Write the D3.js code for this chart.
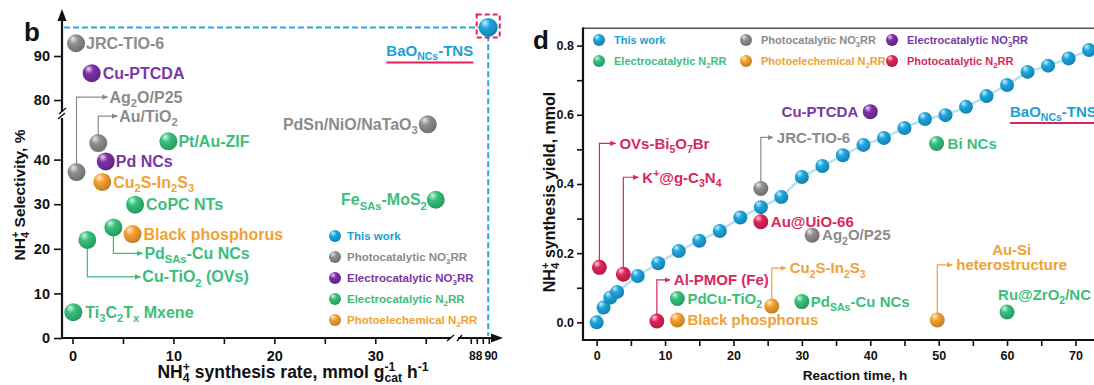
<!DOCTYPE html>
<html>
<head>
<meta charset="utf-8">
<script src="https://cdn.jsdelivr.net/npm/d3@7"></script>
<style>
  html, body { margin: 0; padding: 0; background: #fff; }
  svg { display: block; font-family: "Liberation Sans", Arial, sans-serif; font-weight: bold; }
</style>
</head>
<body>
<svg id="chart" width="1094" height="385"></svg>
<script>
// ---------- Panel b: selectivity vs. synthesis rate ----------
const rateCatalysts = ["BaO_{NCs}-TNS", "JRC-TIO-6", "Cu-PTCDA", "Ag_2O/P25", "Au/TiO_2", "Pt/Au-ZIF",
  "Pd NCs", "Cu_2S-In_2S_3", "CoPC NTs", "Pd_{SAs}-Cu NCs", "Black phosphorus", "Cu-TiO_2 (OVs)",
  "Ti_3C_2T_x Mxene", "PdSn/NiO/NaTaO_3", "Fe_{SAs}-MoS_2"];
const rateValues = [89.9, 0.35, 1.9, 0.4, 2.55, 9.5, 3.3, 2.95, 6.2, 4.05, 5.95, 1.47, 0.08, 35.2, 36.0];
const selectivityValues = [96.5, 92.9, 86.1, 37.2, 43.7, 44.1, 39.6, 35.0, 29.9, 24.8, 23.3, 22.0, 5.8, 47.9, 31.0];
const rateGroups = ["work", "photoNO3", "electroNO3", "photoNO3", "photoNO3", "electroN2",
  "electroNO3", "photoelecN2", "electroN2", "electroN2", "photoelecN2", "electroN2",
  "electroN2", "photoNO3", "electroN2"];
const selectivityTicks = [0, 10, 20, 30, 40, 80, 90];
const rateTicks = [0, 5, 10, 15, 20, 25, 30, 35, 87, 88, 89, 90];
const rateTickLabels = [0, 10, 20, 30, 88, 90];

// ---------- Panel d: yield vs. reaction time ----------
const reactionTimes = [0, 1, 2, 3, 6, 9, 12, 15, 18, 21, 24, 27, 30, 33, 36, 39, 42, 45, 48, 51, 54, 57, 60, 63, 66, 69, 72];
const thisWorkYield = [0, 0.043, 0.072, 0.088, 0.134, 0.171, 0.206, 0.236, 0.264, 0.303, 0.333, 0.362, 0.42,
  0.452, 0.483, 0.513, 0.533, 0.562, 0.588, 0.599, 0.623, 0.654, 0.686, 0.724, 0.742, 0.763, 0.787];
const refCatalysts = ["OVs-Bi_5O_7Br", "K^{+}@g-C_3N_4", "Al-PMOF (Fe)", "PdCu-TiO_2", "Black phosphorus",
  "Cu_2S-In_2S_3", "Pd_{SAs}-Cu NCs", "JRC-TIO-6", "Au@UiO-66", "Ag_2O/P25", "Cu-PTCDA", "Bi NCs",
  "Au-Si heterostructure", "Ru@ZrO_2/NC"];
const refTimes = [0.4, 3.9, 8.8, 11.8, 11.8, 25.6, 30, 24, 24, 31.5, 40, 49.7, 49.8, 60];
const refYields = [0.159, 0.139, 0.004, 0.069, 0.007, 0.047, 0.06, 0.387, 0.291, 0.252, 0.609, 0.517, 0.007, 0.03];
const refGroups = ["photoN2", "photoN2", "photoN2", "electroN2", "photoelecN2", "photoelecN2", "electroN2",
  "photoNO3", "photoN2", "photoNO3", "electroNO3", "electroN2", "photoelecN2", "electroN2"];
const yieldTicks = [0, 0.1, 0.2, 0.3, 0.4, 0.5, 0.6, 0.7, 0.8];
const timeTicks = [0, 5, 10, 15, 20, 25, 30, 35, 40, 45, 50, 55, 60, 65, 70];

// ---------- Legend groups ----------
const groupKeys = ["work", "photoNO3", "electroNO3", "electroN2", "photoelecN2", "photoN2"];
const groupNames = ["This work", "Photocatalytic NO_3^-RR", "Electrocatalytic NO_3^-RR",
  "Electrocatalytic N_2RR", "Photoelechemical N_2RR", "Photocatalytic N_2RR"];

// ---------- Styling ----------
const fillColor = { work: "#1ca6df", photoNO3: "#8f8f8f", electroNO3: "#7d2fa8",
  electroN2: "#36c27b", photoelecN2: "#f6a12f", photoN2: "#e0245a" };
const textColor = { work: "#1b9fd6", photoNO3: "#8b8b8b", electroNO3: "#7b37a6",
  electroN2: "#3cbe7b", photoelecN2: "#f0a235", photoN2: "#d8285c" };

// label placement relative to each sphere (px); "elbow" draws an arrowed leader line
const layoutB = {
  "BaO_{NCs}-TNS": { dx: -15, dy: 23, anchor: "end", fs: 15, underline: 12 },
  "JRC-TIO-6": { dx: 10, dy: 0 },
  "Cu-PTCDA": { dx: 11, dy: 0 },
  "Ag_2O/P25": { dx: 33, dy: -75, elbow: true },
  "Au/TiO_2": { dx: 21, dy: -27, elbow: true },
  "Pt/Au-ZIF": { dx: 10, dy: 0 },
  "Pd NCs": { dx: 10, dy: 0 },
  "Cu_2S-In_2S_3": { dx: 11, dy: 0 },
  "CoPC NTs": { dx: 11, dy: 0 },
  "Pd_{SAs}-Cu NCs": { dx: 31, dy: 26, elbow: true },
  "Black phosphorus": { dx: 11, dy: 0 },
  "Cu-TiO_2 (OVs)": { dx: 55, dy: 37, elbow: true },
  "Ti_3C_2T_x Mxene": { dx: 12, dy: 0 },
  "PdSn/NiO/NaTaO_3": { dx: -10, dy: 0, anchor: "end" },
  "Fe_{SAs}-MoS_2": { dx: -9, dy: 0, anchor: "end" }
};
const layoutD = {
  "OVs-Bi_5O_7Br": { dx: 18, dy: -124, elbow: true },
  "K^{+}@g-C_3N_4": { dx: 17, dy: -97, elbow: true },
  "Al-PMOF (Fe)": { dx: 15, dy: -41, elbow: true },
  "PdCu-TiO_2": { dx: 10, dy: 0 },
  "Black phosphorus": { dx: 10, dy: 0 },
  "Cu_2S-In_2S_3": { dx: 16, dy: -38, elbow: true },
  "Pd_{SAs}-Cu NCs": { dx: 9, dy: 0 },
  "JRC-TIO-6": { dx: 14, dy: -51, elbow: true },
  "Au@UiO-66": { dx: 10, dy: 0 },
  "Ag_2O/P25": { dx: 10, dy: 0 },
  "Cu-PTCDA": { dx: -12, dy: 0, anchor: "end" },
  "Bi NCs": { dx: 11, dy: 0 },
  "Au-Si heterostructure": { dx: 17, dy: -55, elbow: true, twoLine: true },
  "Ru@ZrO_2/NC": { dx: -9, dy: -17 }
};

const svg = d3.select("#chart");
const defs = svg.append("defs");

// shaded sphere fills and leader arrowheads for every group colour
groupKeys.forEach(k => {
  const c = fillColor[k];
  const g = defs.append("radialGradient").attr("id", "sph-" + k)
    .attr("cx", "40%").attr("cy", "35%").attr("r", "65%").attr("fx", "32%").attr("fy", "25%");
  g.append("stop").attr("offset", "0%").attr("stop-color", d3.interpolateRgb(c, "#ffffff")(0.8));
  g.append("stop").attr("offset", "40%").attr("stop-color", c);
  g.append("stop").attr("offset", "100%").attr("stop-color", d3.color(c).darker(0.7));
  defs.append("marker").attr("id", "arr-" + k)
    .attr("viewBox", "0 0 8 8").attr("refX", 7).attr("refY", 4)
    .attr("markerWidth", 6).attr("markerHeight", 6).attr("markerUnits", "userSpaceOnUse")
    .attr("orient", "auto")
    .append("path").attr("d", "M0,0.5 L8,4 L0,7.5 Z").attr("fill", textColor[k]);
});

// text with _sub and ^sup segments (sub followed by sup are stacked)
function richText(sel, str, fs, subShift = 0.28) {
  const toks = [];
  let i = 0;
  while (i < str.length) {
    const c = str[i];
    if (c === "_" || c === "^") {
      let t;
      if (str[i + 1] === "{") { const j = str.indexOf("}", i + 2); t = str.slice(i + 2, j); i = j + 1; }
      else { t = str[i + 1]; i += 2; }
      toks.push({ t, m: c });
    } else {
      let j = i;
      while (j < str.length && str[j] !== "_" && str[j] !== "^") j++;
      toks.push({ t: str.slice(i, j), m: "" });
      i = j;
    }
  }
  let cur = 0, prevSub = null, pending = 0;
  toks.forEach(tok => {
    const target = tok.m === "_" ? fs * subShift : tok.m === "^" ? -fs * 0.4 : 0;
    const ts = sel.append("tspan").text(tok.t).attr("dy", target - cur);
    if (tok.m) ts.attr("font-size", fs * 0.7);
    if (tok.m === "^" && prevSub) {
      const sw = prevSub.node().getComputedTextLength();
      ts.attr("dx", -sw);
      const pw = ts.node().getComputedTextLength();
      pending = Math.max(0, sw - pw);
    } else if (pending) {
      ts.attr("dx", pending);
      pending = 0;
    }
    prevSub = tok.m === "_" ? ts : null;
    cur = target;
  });
}

function label(g, x, y, str, fs, color, anchor) {
  const t = g.append("text").attr("x", x).attr("y", y + fs * 0.35)
    .attr("font-size", fs).attr("fill", color).attr("text-anchor", anchor || "start");
  richText(t, str, fs);
  return t;
}

function sphere(g, x, y, r, key) {
  g.append("circle").attr("cx", x).attr("cy", y).attr("r", r).attr("fill", `url(#sph-${key})`);
}

function styleAxis(ax, fs) {
  ax.select(".domain").remove();
  ax.attr("font-family", null).attr("font-size", fs);
  ax.selectAll(".tick line").attr("stroke", "#111").attr("stroke-width", 1.6);
  ax.selectAll(".tick text").attr("fill", "#111");
}

function line(g, pts, attrs) {
  const p = g.append("path").attr("d", d3.line()(pts));
  Object.entries(attrs).forEach(([k, v]) => p.attr(k, v));
  return p;
}

// ================= Panel b =================
const xB = d3.scaleLinear().domain([0, 37.8, 85.2, 92.2]).range([72.5, 454, 460, 502]);
const yB = d3.scaleLinear().domain([0, 50, 76.6, 100]).range([338, 115, 115, 12]);
const gB = svg.append("g");
const axX0 = 62, axY0 = 338;

const yAxisB = gB.append("g").attr("transform", `translate(${axX0},0)`)
  .call(d3.axisLeft(yB).tickValues(selectivityTicks).tickSize(8).tickPadding(4));
styleAxis(yAxisB, 14.5);
const xAxisB = gB.append("g").attr("transform", `translate(0,${axY0})`)
  .call(d3.axisBottom(xB).tickValues(rateTicks).tickSize(6).tickPadding(7)
    .tickFormat(d => rateTickLabels.includes(d) ? d : ""));
styleAxis(xAxisB, 14.5);
// labels beyond the axis break are set smaller
xAxisB.selectAll(".tick text").filter(d => d > 80)
  .attr("font-size", 12).attr("dx", d => d === 90 ? 1.8 : -1.6);

// axis lines with break marks and arrowheads
const axisStroke = { stroke: "#111", "stroke-width": 2.2, fill: "none" };
line(gB, [[axX0, axY0 + 1], [axX0, 118]], axisStroke);
line(gB, [[axX0, 112], [axX0, 18]], axisStroke);
line(gB, [[axX0 - 4, 119], [axX0 + 3, 113]], { stroke: "#111", "stroke-width": 1.4 });
line(gB, [[axX0 - 3, 114], [axX0 + 4, 108]], { stroke: "#111", "stroke-width": 1.4 });
gB.append("path").attr("d", `M${axX0 - 4.5},${21} L${axX0},${9} L${axX0 + 4.5},${21} Z`).attr("fill", "#111");
line(gB, [[axX0 - 1, axY0], [451, axY0]], axisStroke);
line(gB, [[458, axY0], [494, axY0]], axisStroke);
line(gB, [[447, axY0 + 3], [454, axY0 - 3]], { stroke: "#111", "stroke-width": 1.4 });
line(gB, [[457, axY0 + 3], [462, axY0 - 3]], { stroke: "#111", "stroke-width": 1.4 });
gB.append("path").attr("d", `M491,${axY0 - 4.5} L503,${axY0} L491,${axY0 + 4.5} Z`).attr("fill", "#111");

// dashed guides to the highlighted point
const bx = xB(rateValues[0]), by = yB(selectivityValues[0]);
line(gB, [[axX0 + 2, by], [bx, by], [bx, axY0 - 2]],
  { stroke: "#2aa7dc", "stroke-width": 2, "stroke-dasharray": "6,3", fill: "none" });
gB.append("rect").attr("x", bx - 11.5).attr("y", by - 13).attr("width", 23).attr("height", 23)
  .attr("fill", "none").attr("stroke", "#e0245a").attr("stroke-width", 2).attr("stroke-dasharray", "5,3");

// spheres and labels
rateCatalysts.forEach((name, i) => {
  const x = xB(rateValues[i]), y = yB(selectivityValues[i]), key = rateGroups[i];
  const L = layoutB[name];
  const fs = L.fs || 16;
  if (L.elbow) {
    const ly = y + L.dy;
    gB.append("path").attr("d", d3.line()([[x, y], [x, ly], [x + L.dx - 2, ly]]))
      .attr("fill", "none").attr("stroke", textColor[key]).attr("stroke-width", 1.2)
      .attr("marker-end", `url(#arr-${key})`);
  }
  sphere(gB, x, y, name === rateCatalysts[0] ? 9.5 : 9, key);
  const t = label(gB, x + L.dx, y + L.dy, name, fs, textColor[key], L.anchor);
  if (L.underline) {
    const bb = t.node().getBBox();
    line(gB, [[bb.x, y + L.dy + L.underline], [bb.x + bb.width, y + L.dy + L.underline]],
      { stroke: "#e0245a", "stroke-width": 2 });
  }
});

// legend
groupKeys.slice(0, 5).forEach((k, i) => {
  const y = 236 + i * 21;
  sphere(gB, 335, y, 6, k);
  label(gB, 347, y, groupNames[i], 11.5, textColor[k]);
});

// titles
gB.append("text").attr("x", 24).attr("y", 41).attr("font-size", 26).attr("fill", "#111").text("b");
const ytB = gB.append("text").attr("transform", "translate(25,195) rotate(-90)")
  .attr("text-anchor", "middle").attr("font-size", 15.5).attr("fill", "#111");
richText(ytB, "NH_4^+ Selectivity, %", 15.5);
const xtB = gB.append("text").attr("x", 293).attr("y", 378)
  .attr("text-anchor", "middle").attr("font-size", 17.5).attr("fill", "#111");
richText(xtB, "NH_4^+ synthesis rate, mmol g_{cat}^{-1} h^{-1}", 17.5, 0.2);

// ================= Panel d =================
const xD = d3.scaleLinear().domain([-2, 74]).range([583, 1102.8]);
const yD = d3.scaleLinear().domain([-0.051, 0.85]).range([340, 28.3]);
const gD = svg.append("g");

// frame
gD.append("line").attr("x1", 583).attr("x2", 1100).attr("y1", 28.3).attr("y2", 28.3)
  .attr("stroke", "#555").attr("stroke-width", 1.6);
const yAxisD = gD.append("g").attr("transform", "translate(583,0)")
  .call(d3.axisLeft(yD).tickValues(yieldTicks).tickSize(6).tickPadding(3)
    .tickFormat(d => (Math.round(d * 10) % 2 === 0) ? d3.format(".1f")(d) : ""));
styleAxis(yAxisD, 12.5);
const xAxisD = gD.append("g").attr("transform", "translate(0,340)")
  .call(d3.axisBottom(xD).tickValues(timeTicks).tickSize(6).tickPadding(5)
    .tickFormat(d => d % 10 === 0 ? d : ""));
styleAxis(xAxisD, 12.5);
line(gD, [[583, 27.5], [583, 341]], axisStroke);
line(gD, [[582, 340], [1100, 340]], axisStroke);

// this-work curve
gD.append("path")
  .attr("d", d3.line().x(d => xD(d[0])).y(d => yD(d[1]))(reactionTimes.map((t, i) => [t, thisWorkYield[i]])))
  .attr("fill", "none").attr("stroke", "#b3e2f4").attr("stroke-width", 2.5);
reactionTimes.forEach((t, i) => sphere(gD, xD(t), yD(thisWorkYield[i]), 7, "work"));

// reference catalysts
refCatalysts.forEach((name, i) => {
  const x = xD(refTimes[i]), y = yD(refYields[i]), key = refGroups[i];
  const L = layoutD[name];
  const fs = 15;
  if (L.elbow) {
    const ly = y + L.dy;
    gD.append("path").attr("d", d3.line()([[x, y], [x, ly], [x + L.dx - 2, ly]]))
      .attr("fill", "none").attr("stroke", textColor[key]).attr("stroke-width", 1.2)
      .attr("marker-end", `url(#arr-${key})`);
  }
  sphere(gD, x, y, 7.5, key);
  if (L.twoLine) {
    const words = name.split(" ");
    const t2 = label(gD, x + L.dx + 2, y + L.dy, words[1], fs, textColor[key]);
    const bb = t2.node().getBBox();
    label(gD, bb.x + bb.width / 2, y + L.dy - 15, words[0], fs, textColor[key], "middle");
  } else {
    label(gD, x + L.dx + (L.elbow ? 2 : 0), y + L.dy, name, fs, textColor[key], L.anchor);
  }
});

// highlighted catalyst name
const tagY = yD(thisWorkYield[thisWorkYield.length - 5]) + 27;
label(gD, 1010, tagY, "BaO_{NCs}-TNS", 15, textColor.work);
line(gD, [[1010, tagY + 11], [1100, tagY + 11]], { stroke: "#e0245a", "stroke-width": 2 });

// legend (two rows, three columns)
const legendOrder = ["work", "photoNO3", "electroNO3", "electroN2", "photoelecN2", "photoN2"];
const legendCols = [599, 746, 892];
legendOrder.forEach((k, i) => {
  const x = legendCols[i % 3], y = 40 + Math.floor(i / 3) * 21;
  sphere(gD, x, y, 6, k);
  label(gD, x + 15, y, groupNames[groupKeys.indexOf(k)], 11, textColor[k]);
});

// titles
gD.append("text").attr("x", 533).attr("y", 49).attr("font-size", 26).attr("fill", "#111").text("d");
const ytD = gD.append("text").attr("transform", "translate(555,192) rotate(-90)")
  .attr("text-anchor", "middle").attr("font-size", 16).attr("fill", "#111");
richText(ytD, "NH_4^+ synthesis yield, mmol", 16);
gD.append("text").attr("x", 855).attr("y", 380).attr("text-anchor", "middle")
  .attr("font-size", 13.5).attr("fill", "#111").text("Reaction time, h");
</script>
</body>
</html>
